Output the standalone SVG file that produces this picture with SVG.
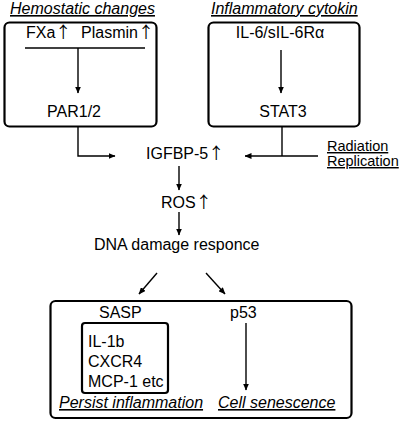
<svg xmlns="http://www.w3.org/2000/svg" width="408" height="421" viewBox="0 0 408 421">
<defs>
<marker id="ah" markerWidth="7" markerHeight="6" refX="6.5" refY="3" orient="auto" markerUnits="userSpaceOnUse">
<path d="M0,0 L7,3 L0,6 Z" fill="#000"/>
</marker>
<style>
text{font-family:"Liberation Sans",Arial,sans-serif;font-size:16px;fill:#000}
.it{font-style:italic;text-decoration:underline}
.ul{text-decoration:underline;font-size:14.5px}
.up{font-family:"Noto Sans CJK JP","Noto Sans CJK SC",sans-serif;fill:#000}
.box{fill:none;stroke:#000;stroke-width:2.2}
.ln{fill:none;stroke:#000;stroke-width:1.4}
.ar{fill:none;stroke:#000;stroke-width:1.4;marker-end:url(#ah)}
</style>
</defs>
<rect width="408" height="421" fill="#fff"/>
<g id="hemostatic">
<text class="it" x="10" y="14">Hemostatic changes</text>
<rect class="box" x="4.5" y="22.5" width="152" height="104" rx="5"/>
<text x="26" y="38">FXa<tspan class="up">↑︎</tspan></text>
<text x="81" y="38">Plasmin<tspan class="up">↑︎</tspan></text>
<line class="ln" x1="25" y1="48" x2="145" y2="48"/>
<line class="ar" x1="78" y1="48" x2="78" y2="93"/>
<text x="74" y="117" text-anchor="middle">PAR1/2</text>
</g>
<g id="inflammatory">
<text class="it" x="211" y="14">Inflammatory cytokin</text>
<rect class="box" x="208.5" y="22.5" width="151" height="104" rx="5"/>
<text x="280" y="38" text-anchor="middle">IL-6/sIL-6Rα</text>
<text x="283" y="117" text-anchor="middle">STAT3</text>
</g>
<g id="radiation">
<text class="ul" x="327" y="151">Radiation</text>
<text class="ul" x="327" y="166">Replication</text>
</g>
<g id="igfbp5"><text x="146" y="159">IGFBP-5<tspan class="up">↑︎</tspan></text></g>
<g id="ros"><text x="161" y="208">ROS<tspan class="up">↑︎</tspan></text></g>
<g id="dna"><text x="94" y="250">DNA damage responce</text></g>
<g id="outcome">
<rect class="box" x="50.5" y="301" width="301" height="117" rx="5"/>
<text x="99" y="318">SASP</text>
<rect class="box" x="82" y="323" width="86" height="70" rx="3"/>
<text x="88" y="347">IL-1b</text>
<text x="88" y="367">CXCR4</text>
<text x="88" y="387">MCP-1 etc</text>
<text x="230" y="318">p53</text>
<text class="it" x="59" y="408">Persist inflammation</text>
<text class="it" x="218" y="408">Cell senescence</text>
</g>
<g id="connectors">
<line class="ar" x1="281" y1="50" x2="281" y2="93"/>
<polyline class="ar" points="78,127 78,156 115,156"/>
<line class="ln" x1="282" y1="127" x2="282" y2="156"/>
<line class="ar" x1="318" y1="156" x2="245" y2="156"/>
<line class="ar" x1="179" y1="166" x2="179" y2="190"/>
<line class="ar" x1="179" y1="212" x2="179" y2="235"/>
<line class="ar" x1="157" y1="273" x2="139" y2="294"/>
<line class="ar" x1="206" y1="273" x2="225" y2="294"/>
<line class="ar" x1="246" y1="323" x2="246" y2="390"/>
</g>
</svg>
